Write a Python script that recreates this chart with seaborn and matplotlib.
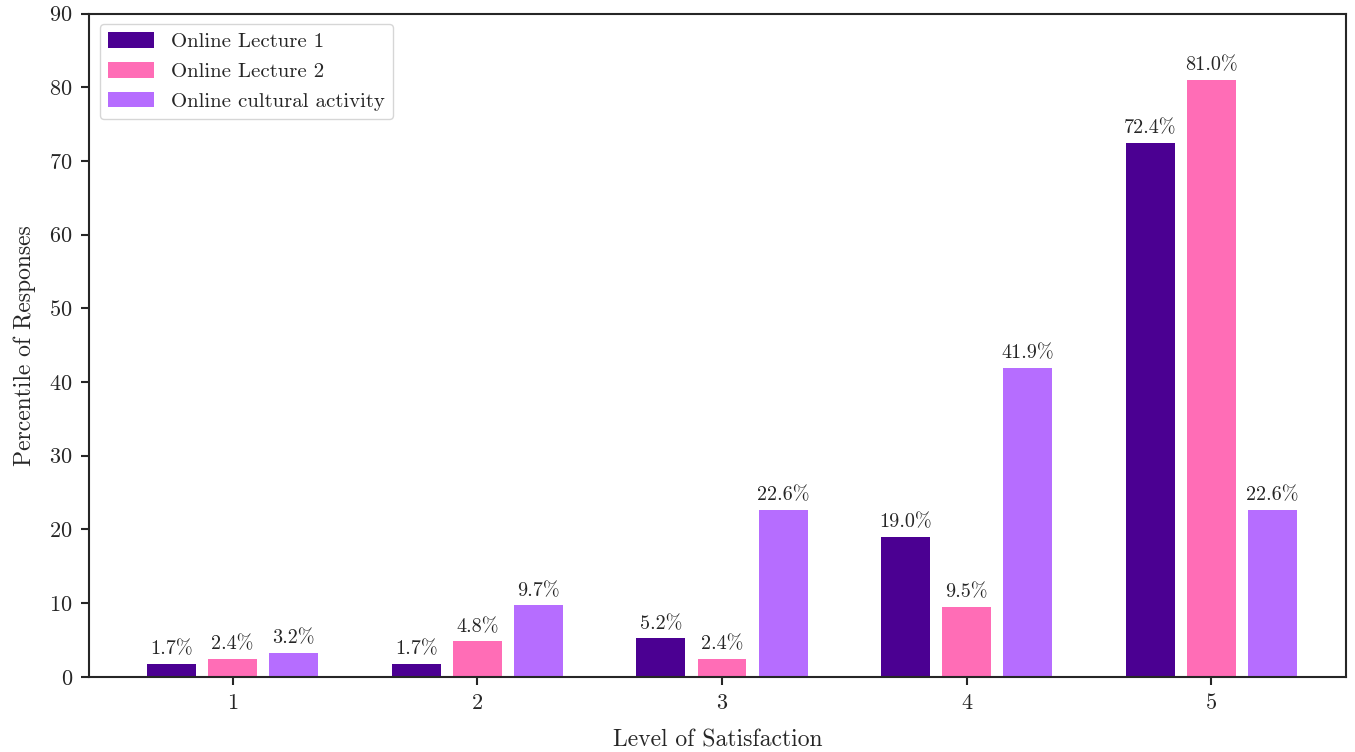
import pandas as pd
import seaborn as sns
import matplotlib.pyplot as plt

levels = ['1', '2', '3', '4', '5']
lecture1 = [1.7, 1.7, 5.2, 19.0, 72.4]
lecture2 = [2.4, 4.8, 2.4, 9.5, 81.0]
cultural = [3.2, 9.7, 22.6, 41.9, 22.6]
series = ['Online Lecture 1', 'Online Lecture 2', 'Online cultural activity']
colores = ['#4b0092', '#ff6db6', '#b66dff']

df = pd.DataFrame({
    'nivel': levels * 3,
    'valor': lecture1 + lecture2 + cultural,
    'serie': [s for s in series for _ in levels],
})

sns.set_theme(style="ticks")
plt.rcParams['font.family'] = 'serif'
plt.rcParams['font.serif'] = ['cmr10', 'DejaVu Serif']
plt.rcParams['mathtext.fontset'] = 'cm'
plt.rcParams['axes.formatter.use_mathtext'] = True

fig, ax = plt.subplots(figsize=(13.55, 7.52), dpi=100)
sns.barplot(data=df, x='nivel', y='valor', hue='serie', palette=colores,
            width=0.75, gap=0.2, saturation=1, linewidth=0, ax=ax)

for cont in ax.containers:
    ax.bar_label(cont, labels=[f'{v:.1f}%' for v in cont.datavalues],
                 padding=4, fontsize=14.5)

ax.set_xlim(-0.585, 4.548)
ax.set_ylim(0, 90)
ax.set_yticks(range(0, 91, 10))
ax.set_xlabel('Level of Satisfaction', fontsize=17, labelpad=12)
ax.set_ylabel('Percentile of Responses', fontsize=17, labelpad=10)
ax.tick_params(labelsize=16, width=1.5, length=6, pad=6)
for s in ax.spines.values():
    s.set_linewidth(1.5)
ax.legend(loc='upper left', fontsize=15, title=None, frameon=True,
          handlelength=2.2, handleheight=0.8)

plt.subplots_adjust(left=0.066, right=0.993, top=0.982, bottom=0.1)
plt.savefig('out.png', dpi=100)
